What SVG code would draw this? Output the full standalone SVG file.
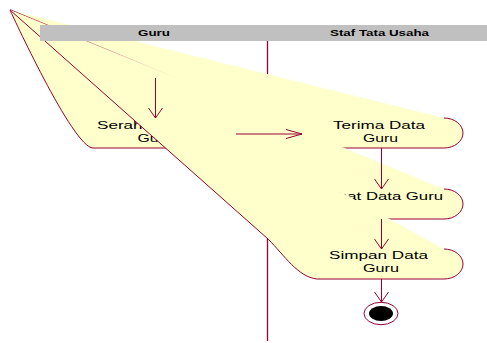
<svg xmlns="http://www.w3.org/2000/svg" width="487" height="343" viewBox="0 0 487 343">
<defs>
<linearGradient id="fade" gradientUnits="userSpaceOnUse" x1="10" y1="10" x2="178" y2="79">
<stop offset="0" stop-color="#a01848" stop-opacity="0.9"/>
<stop offset="0.6" stop-color="#c86080" stop-opacity="0.55"/>
<stop offset="1" stop-color="#e8a0b0" stop-opacity="0"/>
</linearGradient>
</defs>
<style>
.lane{stroke:#990033;stroke-width:1.3;fill:none}
.hdr{fill:#C0C0C0}
.ht{font-family:"Liberation Sans",Arial,sans-serif;font-weight:bold;font-size:9.5px;fill:#000}
.fill{fill:#FFFFCC;stroke:none}
.outl{fill:none;stroke:#990033;stroke-width:1}
.at{font-family:"Liberation Sans",Arial,sans-serif;font-size:11.5px;fill:#000}
.conn{fill:none;stroke:#990033;stroke-width:1}
.final{fill:#fff;stroke:#990033;stroke-width:1}
.dot{fill:#000}
</style>
<g id="lanes">
<line class="lane" x1="267.5" y1="41" x2="267.5" y2="341"/>
</g>
<g id="node-serahkan">
<path class="fill" d="M10,10 L217,118 A19,15 0 0 1 217,148 L93,148 C73,148 10,10 10,10 Z"/>
<path class="outl" d="M217,118 A19,15 0 0 1 217,148 L93,148 C73,148 10,10 10,10"/>
<text class="at" x="97" y="128.5" textLength="114" lengthAdjust="spacingAndGlyphs">Serahkan Data</text>
<text class="at" x="137.5" y="141.5" textLength="35" lengthAdjust="spacingAndGlyphs">Guru</text>
</g>
<g id="node-terima">
<path class="fill" d="M10,10 L444,118 A19,15 0 0 1 444,148 L317,148 Q298,148 290,130 Z"/>
<path class="outl" d="M444,118 A19,15 0 0 1 444,148 L317,148 Q298,148 290,130"/>
<line x1="10" y1="9.6" x2="178" y2="78.6" stroke="url(#fade)" stroke-width="1"/>
<text class="at" x="333" y="129" textLength="92" lengthAdjust="spacingAndGlyphs">Terima Data</text>
<text class="at" x="363" y="142" textLength="35" lengthAdjust="spacingAndGlyphs">Guru</text>
</g>
<g id="node-lihat">
<path class="fill" d="M10,10 L444,189 A19,15 0 0 1 444,219 L317,219 C300,219 296,205 270,185 Z"/>
<path class="outl" d="M444,189 A19,15 0 0 1 444,219 L317,219 C300,219 296,205 270,185"/>
<text class="at" x="325" y="199.5" textLength="118" lengthAdjust="spacingAndGlyphs">Lihat Data Guru</text>
</g>
<g id="node-simpan">
<path class="fill" d="M10,10 L444,249 A19,15 0 0 1 444,279 L317,279 C298,277 285,256 268,239 Z"/>
<path class="outl" d="M444,249 A19,15 0 0 1 444,279 L317,279 C298,277 285,256 268,239 L10,10"/>
<text class="at" x="329" y="259" textLength="99" lengthAdjust="spacingAndGlyphs">Simpan Data</text>
<text class="at" x="363" y="272" textLength="36" lengthAdjust="spacingAndGlyphs">Guru</text>
</g>
<g id="node-final">
<ellipse class="final" cx="381" cy="313.5" rx="17" ry="11.2"/>
<ellipse class="dot" cx="381" cy="313.5" rx="12" ry="7.4"/>
</g>
<g id="header">
<rect class="hdr" x="40" y="25" width="447" height="16"/>
<text class="ht" x="138" y="36" textLength="32" lengthAdjust="spacingAndGlyphs">Guru</text>
<text class="ht" x="330" y="36" textLength="99" lengthAdjust="spacingAndGlyphs">Staf Tata Usaha</text>
</g>
<g id="connectors">
<path class="conn" d="M155.5,78 L155.5,118 M148.5,108 L155.5,118 L162.5,108"/>
<path class="conn" d="M236,134 L302,134 M286,129.5 L302,134 L286,138.5"/>
<path class="conn" d="M381.5,148 L381.5,189 M374.5,179 L381.5,189 L388.5,179"/>
<path class="conn" d="M381.5,219 L381.5,249 M374.5,239 L381.5,249 L388.5,239"/>
<path class="conn" d="M381.5,279 L381.5,302 M374.5,292 L381.5,302 L388.5,292"/>
</g>
</svg>
